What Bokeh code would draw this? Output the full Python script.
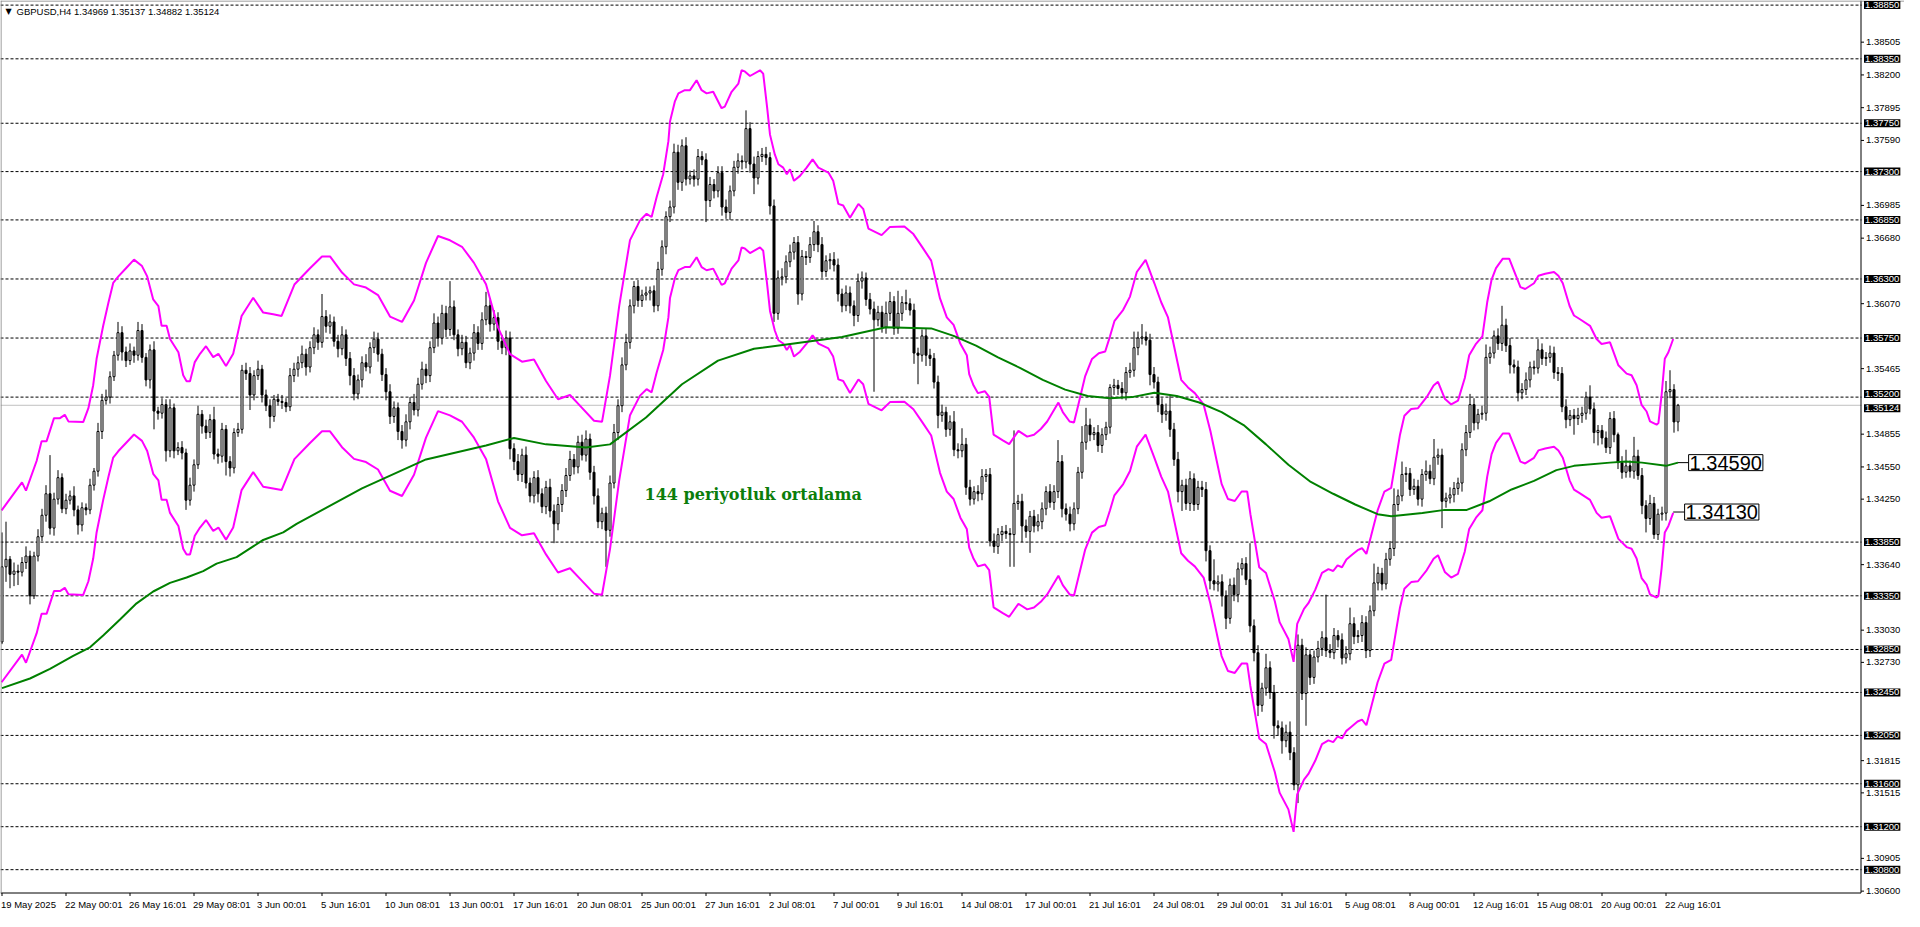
from bokeh.plotting import figure
from bokeh.models import ColumnDataSource, Label, Range1d
from bokeh.embed import file_html
from bokeh.resources import INLINE

# ---------------- DATA (GBPUSD H4) ----------------
first_open = 1.3292
close = [
 1.3362,1.3369,1.3355,1.3358,1.3357,1.3366,1.3372,1.3335,1.3372,1.3390,1.3410,1.3430,1.3398,1.3425,1.3445,1.3416,1.3424,1.3428,1.3415,1.3401,
 1.3417,1.3415,1.3438,1.3451,1.3488,1.3517,1.3520,1.3539,1.3559,1.3580,1.3562,1.3554,1.3563,1.3559,1.3582,1.3557,1.3536,1.3564,1.3507,1.3505,
 1.3513,1.3470,1.3510,1.3470,1.3473,1.3468,1.3424,1.3438,1.3457,1.3504,1.3493,1.3487,1.3499,1.3467,1.3465,1.3490,1.3460,1.3454,1.3487,1.3490,
 1.3545,1.3542,1.3522,1.3540,1.3546,1.3522,1.3512,1.3502,1.3518,1.3516,1.3515,1.3511,1.3540,1.3546,1.3552,1.3560,1.3548,1.3566,1.3578,1.3571,
 1.3595,1.3586,1.3590,1.3572,1.3565,1.3578,1.3556,1.3540,1.3523,1.3536,1.3552,1.3548,1.3566,1.3574,1.3560,1.3541,1.3525,1.3502,1.3510,1.3488,
 1.3480,1.3497,1.3515,1.3508,1.3532,1.3546,1.3540,1.3566,1.3589,1.3575,1.3598,1.3583,1.3604,1.3578,1.3565,1.3571,1.3552,1.3561,1.3580,1.3570,
 1.3592,1.3605,1.3588,1.3594,1.3572,1.3566,1.3575,1.3472,1.3460,1.3448,1.3466,1.3440,1.3428,1.3445,1.3430,1.3418,1.3436,1.3414,1.3402,1.3420,
 1.3433,1.3447,1.3462,1.3455,1.3478,1.3466,1.3481,1.3450,1.3428,1.3404,1.3412,1.3396,1.3440,1.3487,1.3512,1.3550,1.3571,1.3605,1.3623,1.3610,
 1.3615,1.3617,1.3619,1.3605,1.3639,1.3660,1.3688,1.3697,1.3748,1.3720,1.3754,1.3723,1.3726,1.3723,1.3744,1.3741,1.3703,1.3718,1.3712,1.3729,
 1.3697,1.3692,1.3712,1.3734,1.3740,1.3739,1.3770,1.3737,1.3724,1.3744,1.3746,1.3743,1.3698,1.3598,1.3631,1.3632,1.3646,1.3655,1.3664,1.3616,
 1.3651,1.3650,1.3662,1.3674,1.3662,1.3637,1.3647,1.3648,1.3643,1.3616,1.3605,1.3617,1.3605,1.3596,1.3628,1.3631,1.3611,1.3602,1.3592,1.3599,
 1.3585,1.3598,1.3609,1.3584,1.3598,1.3608,1.3607,1.3601,1.3561,1.3559,1.3577,1.3559,1.3556,1.3534,1.3503,1.3506,1.3490,1.3497,1.3471,1.3470,
 1.3476,1.3436,1.3425,1.3432,1.3430,1.3446,1.3448,1.3386,1.3381,1.3392,1.3395,1.3393,1.3392,1.3421,1.3423,1.3400,1.3395,1.3409,1.3400,1.3404,
 1.3416,1.3432,1.3422,1.3432,1.3460,1.3416,1.3411,1.3402,1.3416,1.3450,1.3478,1.3494,1.3485,1.3487,1.3475,1.3485,1.3492,1.3529,1.3531,1.3528,
 1.3524,1.3543,1.3545,1.3566,1.3575,1.3576,1.3573,1.3541,1.3534,1.3513,1.3504,1.3507,1.3490,1.3462,1.3432,1.3438,1.3421,1.3444,1.3420,1.3436,
 1.3434,1.3377,1.3349,1.3346,1.3348,1.3335,1.3314,1.3345,1.3336,1.3360,1.3365,1.3350,1.3307,1.3282,1.3233,1.3249,1.3268,1.3245,1.3214,1.3212,
 1.3200,1.3208,1.3189,1.3159,1.3289,1.3244,1.3280,1.3259,1.3278,1.3286,1.3296,1.3284,1.3282,1.3298,1.3294,1.3277,1.3281,1.3309,1.3297,1.3298,
 1.3310,1.3284,1.3321,1.3347,1.3356,1.3346,1.3369,1.3379,1.3420,1.3428,1.3448,1.3449,1.3434,1.3437,1.3425,1.3448,1.3451,1.3444,1.3464,1.3466,
 1.3423,1.3426,1.3429,1.3435,1.3440,1.3471,1.3487,1.3513,1.3496,1.3504,1.3505,1.3557,1.3561,1.3577,1.3570,1.3587,1.3568,1.3550,1.3548,1.3524,
 1.3527,1.3536,1.3548,1.3547,1.3564,1.3556,1.3557,1.3561,1.3543,1.3542,1.3511,1.3499,1.3503,1.3500,1.3503,1.3505,1.3520,1.3509,1.3487,1.3489,
 1.3482,1.3473,1.3500,1.3485,1.3459,1.3450,1.3456,1.3451,1.3465,1.3447,1.3419,1.3407,1.3421,1.3392,1.3411,1.3412,1.3525,1.3527,1.34969,1.35124,
]
# wick lengths above / below the body, in points (0.00001)
wick_up = [
 320,350,30,80,60,50,90,50,40,70,60,80,360,60,70,40,60,50,90,40,
 50,40,60,30,80,60,70,50,40,100,60,50,70,40,80,60,40,50,80,40,
 60,50,80,40,50,60,40,70,50,80,40,60,50,120,50,60,40,50,40,60,
 50,70,60,50,80,40,50,60,40,50,60,40,70,60,60,80,50,60,70,50,
 210,60,70,50,60,80,50,60,70,50,60,80,50,70,60,50,60,70,60,50,
 60,70,50,80,60,70,50,60,90,60,80,70,240,60,50,70,60,50,80,60,
 70,130,60,70,50,60,70,60,50,70,60,80,50,60,70,50,60,80,60,70,
 60,70,80,50,60,70,80,50,60,70,50,60,70,80,60,70,80,60,50,60,
 50,60,40,50,70,60,50,60,80,70,60,80,50,60,70,50,60,70,50,60,
 60,70,50,60,70,50,170,60,70,50,60,70,50,60,70,80,60,70,50,60,
 60,50,70,100,60,70,50,60,70,60,50,70,60,50,70,60,50,60,70,60,
 60,110,90,50,210,60,120,50,60,50,60,70,60,50,60,70,50,60,100,60,
 150,60,70,50,60,70,50,60,70,60,50,60,50,680,60,70,60,50,60,70,
 60,50,70,60,200,60,50,70,60,50,150,160,60,50,70,60,50,30,60,50,
 60,50,70,150,60,120,50,60,70,50,60,70,140,60,70,50,60,70,50,60,
 60,70,50,200,60,70,50,60,70,60,50,60,340,60,70,50,130,60,70,50,
 60,70,100,50,100,60,70,50,60,70,60,400,60,70,50,60,70,150,60,50,
 70,60,50,180,60,50,60,70,150,60,120,60,50,70,60,50,100,60,170,60,
 60,50,70,60,50,60,70,100,60,50,70,120,60,50,70,180,60,70,50,60,
 60,70,50,60,100,60,50,70,60,50,60,70,50,60,70,60,50,110,60,50,
 50,60,60,70,20,60,150,50,180,60,70,50,80,60,50,60,100,180,50,13,
]
wick_dn = [
 20,140,130,110,120,40,60,80,30,50,40,60,60,70,50,40,50,40,60,90,
 60,50,40,50,50,70,40,60,40,50,80,60,40,70,50,50,60,80,170,60,
 50,100,60,70,40,60,90,50,60,40,70,60,50,50,70,60,130,80,50,40,
 40,60,140,50,40,70,50,110,50,40,60,50,40,60,70,50,80,50,60,70,
 50,60,70,50,80,60,70,90,60,50,70,40,60,50,70,60,80,70,60,80,
 80,60,70,50,60,50,70,60,50,80,60,70,60,50,70,60,50,60,70,60,
 60,50,70,60,80,60,70,100,80,60,70,50,60,70,80,60,70,60,180,60,
 70,60,50,70,60,50,60,70,80,60,70,340,60,50,70,60,50,60,70,60,
 60,50,70,60,50,60,70,50,60,70,80,60,50,70,60,50,200,60,70,60,
 80,60,70,50,60,70,60,80,150,60,50,70,80,80,60,70,60,50,70,100,
 60,70,50,60,70,60,50,80,60,70,60,50,70,100,60,70,60,50,670,60,
 50,60,70,60,50,70,60,50,100,270,60,100,70,60,120,60,70,60,60,70,
 60,70,60,50,70,60,50,50,60,70,60,50,300,300,60,150,60,200,60,50,
 70,60,50,70,60,80,60,70,60,50,60,70,60,50,60,70,50,60,70,60,
 60,70,50,60,70,60,50,100,60,70,80,60,70,60,100,180,60,70,60,50,
 70,100,80,60,70,100,100,50,60,70,60,50,60,80,100,60,70,60,120,70,
 120,60,70,50,170,60,300,70,60,50,70,60,50,60,70,60,50,60,70,60,
 60,70,60,50,70,60,50,60,70,60,50,70,60,50,60,70,60,50,60,70,
 250,60,50,70,60,80,60,50,70,60,50,70,60,50,60,70,60,80,60,80,
 60,50,70,60,50,60,70,50,60,70,50,80,60,150,60,70,60,50,100,120,
 60,50,60,70,60,60,50,60,70,40,80,130,60,40,50,60,70,60,100,87,
]

# 144-period moving average (bar index, price)
ma_bar = [0,7,12,17.8,22,25.3,29.5,33.65,37.8,42,46.15,50.3,53.65,58.65,62.8,65.3,70.3,73.65,
          90,106,121,128,136,146,152,161,170,179,188,198,210,221,232.3,237.9,243.5,249,254.6,
          260.2,265.8,271.4,277,282.5,288.1,293.7,299.3,304.9,310.4,316,321.6,327.2,332.8,338.3,
          343.9,347.3,355.1,360.7,366.2,371.8,377.4,383,388.6,393,402,406,410,416,419]
ma_val = [1.3249,1.3258,1.3267,1.3279,1.3287,1.3298,1.3313,1.3328,1.3339,1.3347,1.3352,1.3358,1.3365,1.3371,1.3381,1.3387,1.3394,1.3402,
          1.3435,1.3462,1.3475,1.3482,1.3476,1.3473,1.3476,1.3501,1.3532,1.3554,1.3565,1.3570,1.3576,1.3585,1.3584,1.3577,1.3568,1.3557,1.3547,
          1.3536,1.3527,1.3521,1.3519,1.3520,1.3524,1.3521,1.3515,1.3506,1.3494,1.3476,1.3457,1.3441,1.3430,1.3420,
          1.3411,1.3409,1.3412,1.3415,1.3415,1.3423,1.3434,1.3442,1.3452,1.3456,1.3459,1.3460,1.3459,1.3456,1.3459]

# upper envelope line (bar index, price); envelope deviation 0.6 %
env_bar = [-0.1,5.0,6.0,8.65,9.9,11.15,13.0,14.5,15.7,16.6,20.3,21.6,22.8,23.65,25.3,26.6,27.8,29.1,31,33,35,36.3,
           37.8,39.1,39.9,41.15,42.0,44.1,45.3,46.15,47.0,48.2,49.5,51.0,52.8,54.1,56.0,57.8,59.9,62.8,65.3,67.8,
           69.9,73.1,77,80,82,85,88,91,94,97,100,103,106,109,112,115,118,121,124,127,130,133,136,139,142,145,148,
           150,152,154.3,157.0,159.5,161.15,162.4,163.65,165.3,166.6,167.0,168.2,169.1,170.7,172.0,173.65,174.9,
           176.15,177.8,179.9,180.7,182.4,184.1,184.9,185.7,187.0,189.5,190.3,191.3,192.0,193.2,194.1,195.3,196.2,
           197.0,198.0,199.5,201.15,202.65,204.1,206.6,207.8,209.1,210.3,212.0,214.1,215.3,216.6,219.9,222.0,
           225.6,227.85,230.1,232.3,233.4,234.5,236.2,237.9,239.6,241.2,241.8,242.9,244.0,245.7,246.8,247.9,250.2,
           251.8,254.1,256.3,258.0,259.7,261.3,264.1,265.2,266.9,268.0,269.1,270.8,272.5,274.2,275.8,277.0,278.1,
           280.3,282.0,283.7,285.9,288.1,289.8,291.5,293.1,294.8,296.5,298.2,300.4,302.1,303.7,304.9,306.5,308.2,
           309.9,311.3,312.1,313.2,314.3,316.0,318.2,319.4,321.6,322.9,323.8,325.5,326.6,328.3,330.0,331.6,332.8,
           333.9,335.0,336.1,337.2,338.9,340.0,341.1,342.2,343.9,345.6,347.3,349.5,350.6,352.3,354.0,356.2,357.9,
           359.0,360.7,362.3,364.0,365.7,366.8,368.5,370.1,371.3,372.4,373.5,375.2,376.8,378.5,379.6,380.8,383.0,
           384.1,385.8,388.0,389.1,390.2,391.9,393.0,394.5,397.0,398.65,399.9,402.0,404.1,406.15,407.4,408.65,
           409.9,411.15,412.0,413.65,414.1,414.9,415.7,416.6,417.8]
env_upper = [1.34145,1.34406,1.34329,1.34605,1.3479,1.3479,1.35004,1.35004,1.35035,1.34974,1.34968,1.35097,1.35311,1.35557,1.35864,1.36079,1.36263,1.36324,1.3640,1.3648,1.3642,1.36324,
             1.36109,1.36048,1.35864,1.35864,1.35741,1.35618,1.35403,1.35348,1.35348,1.35526,1.35603,1.35674,1.35572,1.35603,1.35489,1.35603,1.35956,1.36125,1.35987,1.35971,
             1.35956,1.36248,1.3640,1.3651,1.3651,1.3636,1.3625,1.3622,1.3615,1.3595,1.3590,1.3610,1.3645,1.3670,1.3666,1.3660,1.3645,1.3625,1.3585,1.3560,1.3553,1.3555,1.3535,1.3518,1.3522,1.3510,1.3498,
             1.3497,1.3540,1.36048,1.36662,1.36846,1.36907,1.36877,1.37061,1.37276,1.37583,1.37767,1.37951,1.38028,1.38058,1.38058,1.3815,1.38058,
             1.38028,1.38043,1.3789,1.37905,1.38043,1.3812,1.38243,1.38233,1.3819,1.38243,1.38212,1.3789,1.37644,1.3746,1.37368,1.37337,1.37276,
             1.37322,1.37214,1.3726,1.37337,1.37414,1.37337,1.37291,1.37214,1.36999,1.36984,1.36871,1.36999,1.36953,1.36769,1.36708,1.36785,
             1.36788,1.36718,1.36594,1.36471,1.36295,1.36119,1.35942,1.35872,1.35696,1.3559,1.35414,1.35308,1.35237,1.35255,1.35202,1.3485,1.34797,
             1.34762,1.34885,1.34832,1.3485,1.34903,1.34973,1.35149,1.35061,1.34973,1.34963,1.35132,1.35396,1.35555,1.35608,1.35625,1.35766,1.35907,
             1.36013,1.36136,1.36365,1.36478,1.3626,1.36083,1.35942,1.3566,1.35361,1.3529,1.35237,1.35132,1.34885,1.34603,1.34392,1.34251,1.34233,
             1.34321,1.34321,1.3411,1.33863,1.33616,1.33563,1.33299,1.33105,1.32947,1.32735,1.33088,1.33228,1.33281,1.33405,1.33563,1.33598,1.33581,
             1.33634,1.33616,1.33687,1.33722,1.33775,1.33793,1.3374,1.33898,1.34145,1.34321,1.34356,1.3485,1.35026,1.35089,1.35097,1.35202,1.35308,
             1.35343,1.35185,1.35132,1.35167,1.35378,1.3559,1.35696,1.35766,1.36083,1.36295,1.36401,1.36489,1.36489,1.3633,1.36224,1.36207,1.3626,
             1.3633,1.36348,1.36365,1.3633,1.3626,1.36048,1.3596,1.35925,1.35864,1.35741,1.35695,1.3571,1.35496,1.35419,1.35403,1.35311,
             1.35127,1.35066,1.34974,1.34943,1.34958,1.35219,1.35557,1.35618,1.35741]
ENV_DEV = 0.006

level_prices = [1.38850,1.38350,1.37750,1.37300,1.36850,1.36300,1.35750,1.35200,
                1.33850,1.33350,1.32850,1.32450,1.32050,1.31600,1.31200,1.30800]
current_price = 1.35124
price_ticks = [1.38505,1.38200,1.37895,1.37590,1.36985,1.36680,1.36070,1.35465,1.34855,
               1.34550,1.34250,1.33640,1.33030,1.32730,1.31815,1.31515,1.30905,1.30600]
time_labels = ["19 May 2025","22 May 00:01","26 May 16:01","29 May 08:01","3 Jun 00:01","5 Jun 16:01",
               "10 Jun 08:01","13 Jun 00:01","17 Jun 16:01","20 Jun 08:01","25 Jun 00:01","27 Jun 16:01",
               "2 Jul 08:01","7 Jul 00:01","9 Jul 16:01","14 Jul 08:01","17 Jul 00:01","21 Jul 16:01",
               "24 Jul 08:01","29 Jul 00:01","31 Jul 16:01","5 Aug 08:01","8 Aug 00:01","12 Aug 16:01",
               "15 Aug 08:01","20 Aug 00:01","22 Aug 16:01"]
LABEL_STEP = 16
header_text = "GBPUSD,H4  1.34969 1.35137 1.34882 1.35124"
ma_tag_value = 1.34590
env_tag_value = 1.34130
note_text = "144 periyotluk ortalama"
note_bar, note_price = 160.65, 1.3429

assert len(close) == len(wick_up) == len(wick_dn), (len(close), len(wick_up), len(wick_dn))
assert len(ma_bar) == len(ma_val), (len(ma_bar), len(ma_val))
assert len(env_bar) == len(env_upper), (len(env_bar), len(env_upper))

# ---------------- derived series ----------------
n = len(close)
xs = list(range(n))
opens = [first_open] + close[:-1]
hi = [max(o, c) + u * 1e-5 for o, c, u in zip(opens, close, wick_up)]
lo = [min(o, c) - d * 1e-5 for o, c, d in zip(opens, close, wick_dn)]
env_mid = [u / (1 + ENV_DEV) for u in env_upper]
env_lower = [m * (1 - ENV_DEV) for m in env_mid]

up_idx = [i for i in xs if close[i] >= opens[i]]
dn_idx = [i for i in xs if close[i] < opens[i]]
src_all = ColumnDataSource(dict(x=xs, hi=hi, lo=lo))
src_up = ColumnDataSource(dict(x=up_idx, top=[close[i] for i in up_idx], bot=[opens[i] for i in up_idx]))
src_dn = ColumnDataSource(dict(x=dn_idx, top=[opens[i] for i in dn_idx], bot=[close[i] for i in dn_idx]))

# ---------------- layout (whole canvas is the frame; axes drawn by hand) ----------------
CANVAS_W, CANVAS_H = 1904, 910
CHART_W, CHART_H = 1861, 893
PXB = 4.0                        # pixels per bar
X0 = -0.375
X1 = X0 + CANVAS_W / PXB
XA = X0 + CHART_W / PXB          # price-axis line
Y1 = 1.38893                     # chart top
Y0 = 1.30578                     # chart bottom (time-axis line)
PPX = (Y1 - Y0) / CHART_H        # price per pixel
YB = Y0 - (CANVAS_H - CHART_H) * PPX
FONT = "Liberation Sans"
px = 1.0 / PXB

p = figure(width=CANVAS_W, height=CANVAS_H, x_range=Range1d(X0, X1), y_range=Range1d(YB, Y1),
           output_backend="svg", toolbar_location=None,
           x_axis_location=None, y_axis_location=None, min_border=0,
           background_fill_color="white", border_fill_color="white")
p.outline_line_color = None
p.xgrid.grid_line_color = None
p.ygrid.grid_line_color = None

# horizontal levels (behind candles)
p.segment(x0=[X0] * len(level_prices), x1=[XA] * len(level_prices), y0=level_prices, y1=level_prices,
          line_color="black", line_width=1, line_dash="3 2")
p.segment(x0=[X0], x1=[XA], y0=[current_price], y1=[current_price], line_color="#c0c0c0", line_width=1)

# candles
p.segment(x0="x", y0="lo", x1="x", y1="hi", source=src_all, line_color="black", line_width=1)
p.vbar(x="x", width=0.5, top="top", bottom="bot", source=src_up,
       fill_color="white", line_color="black", line_width=1)
p.vbar(x="x", width=0.5, top="top", bottom="bot", source=src_dn,
       fill_color="black", line_color="black", line_width=1)

# indicators
p.line(env_bar, env_upper, line_color="#ff00ff", line_width=2)
p.line(env_bar, env_lower, line_color="#ff00ff", line_width=2)
p.line(ma_bar, ma_val, line_color="#008000", line_width=2)

# chart frame / axes lines
xr = XA - 0.5 * px
yb = Y0 + 0.5 * PPX
p.segment(x0=[xr, X0, X0 + 0.5 * px, X0], y0=[yb, yb, yb, Y1 - 0.5 * PPX],
          x1=[xr, xr, X0 + 0.5 * px, X1], y1=[Y1, yb, Y1, Y1 - 0.5 * PPX],
          line_color=["black", "black", "#808080", "#808080"], line_width=1)
# price ticks
p.segment(x0=[xr] * len(price_ticks), x1=[xr + 3 * px] * len(price_ticks), y0=price_ticks, y1=price_ticks,
          line_color="black", line_width=1)
# time ticks
tick_bars = [LABEL_STEP * k for k in range(len(time_labels))]
p.segment(x0=tick_bars, x1=tick_bars, y0=[yb] * len(tick_bars), y1=[yb - 3 * PPX] * len(tick_bars),
          line_color="black", line_width=1)

# value tags with leader lines
ma_tag_bar = 421.65
env_tag_bar = 420.65
p.segment(x0=[ma_bar[-1], env_bar[-1]], y0=[ma_tag_value, env_tag_value],
          x1=[ma_tag_bar, env_tag_bar], y1=[ma_tag_value, env_tag_value],
          line_color="black", line_width=1)
for bx, val in ((ma_tag_bar, ma_tag_value), (env_tag_bar, env_tag_value)):
    p.add_layout(Label(x=bx, y=val, text=f"{val:.5f}", text_font=FONT, text_font_size="20px",
                       text_color="black", text_baseline="middle", text_align="left",
                       background_fill_color="white", border_line_color="black",
                       border_line_width=1, padding=1))

# annotation text
p.add_layout(Label(x=note_bar, y=note_price, text=note_text, text_font="DejaVu Serif",
                   text_font_style="bold", text_font_size="16px", text_color="#0b7d0b",
                   text_baseline="middle", text_align="left"))

# header
p.add_layout(Label(x=X0 + 5 * px, y=Y1 - 11 * PPX, text="\u25bc", text_font="DejaVu Sans",
                   text_font_size="8px", text_color="black", text_baseline="middle"))
p.add_layout(Label(x=X0 + 16 * px, y=Y1 - 11 * PPX, text=header_text, text_font=FONT,
                   text_font_size="9.5px", text_color="black", text_baseline="middle"))

# regular price labels
for t in price_ticks:
    p.add_layout(Label(x=xr + 5 * px, y=t, text=f"{t:.5f}", text_font=FONT, text_font_size="9.5px",
                       text_color="black", text_baseline="middle", text_align="left"))

# black price tags for the levels and the current price
for lv in level_prices + [current_price]:
    yy = lv
    if lv == 1.35200:
        yy += 3 * PPX
    if lv == current_price:
        yy -= 3 * PPX
    p.add_layout(Label(x=xr + 3 * px, y=yy, text=f"{lv:.5f}", text_font=FONT,
                       text_font_size="9.5px", text_color="white", text_baseline="middle",
                       text_align="left", background_fill_color="black", padding=1))

# time labels under the axis
for k, txt in enumerate(time_labels):
    p.add_layout(Label(x=tick_bars[k] - px, y=Y0 - 5 * PPX, text=txt, text_font=FONT,
                       text_font_size="9.5px", text_color="black", text_baseline="top",
                       text_align="left"))

open("out.html", "w").write(file_html(p, INLINE))
